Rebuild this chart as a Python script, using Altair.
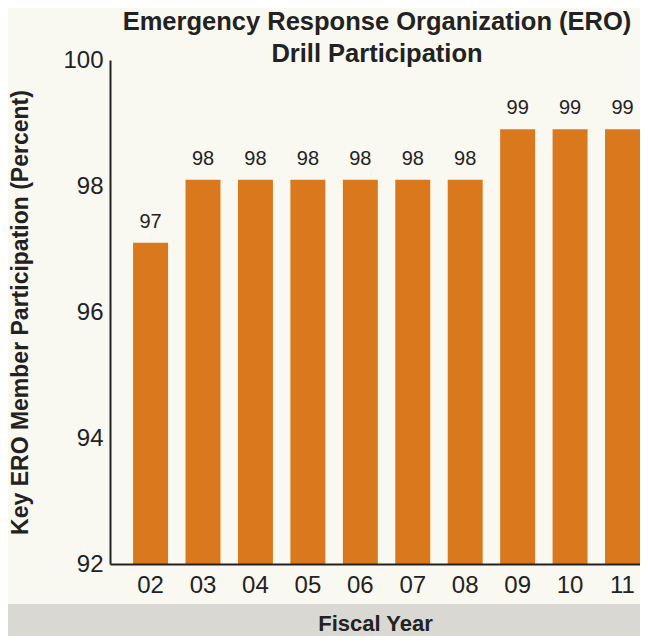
import altair as alt
import pandas as pd

years = ["02", "03", "04", "05", "06", "07", "08", "09", "10", "11"]
participation = [97.1, 98.1, 98.1, 98.1, 98.1, 98.1, 98.1, 98.9, 98.9, 98.9]
y_ticks = [92, 94, 96, 98, 100]

df = pd.DataFrame({"year": years, "value": participation})

BG = "#faf9f1"
BAR = "#d9781c"
TXT = "#222222"
FONT = "Liberation Sans"

W, H = 530, 504

x_enc = alt.X(
    "year:N",
    sort=years,
    scale=alt.Scale(paddingInner=0.333, paddingOuter=0.22, align=1),
    axis=alt.Axis(
        title="Fiscal Year",
        labelAngle=0,
        labelFontSize=24,
        labelColor=TXT,
        labelFont=FONT,
        labelPadding=9,
        ticks=False,
        domainColor=TXT,
        domainWidth=2,
        titleFontSize=22,
        titleFont=FONT,
        titleFontWeight="bold",
        titleColor=TXT,
        titlePadding=16,
        zindex=1,
    ),
)
y_enc = alt.Y(
    "value:Q",
    scale=alt.Scale(domain=[92, 100], nice=False, zero=False),
    axis=alt.Axis(
        values=y_ticks,
        format="d",
        title="Key ERO Member Participation (Percent)",
        labelFontSize=24,
        labelColor=TXT,
        labelFont=FONT,
        labelPadding=7,
        ticks=False,
        grid=False,
        domainColor=TXT,
        domainWidth=2,
        titleFontSize=23,
        titleFont=FONT,
        titleFontWeight="bold",
        titleColor=TXT,
        titlePadding=30,
        zindex=1,
    ),
)

strip = alt.Chart(pd.DataFrame({"k": [0]})).mark_rect(color="#dad8d2").encode(
    x=alt.value(-110), x2=alt.value(540), y=alt.value(544), y2=alt.value(600)
)

bars = alt.Chart(df).mark_bar(color=BAR).encode(
    x=x_enc, y=y_enc, y2=alt.datum(92)
)
labels = alt.Chart(df).mark_text(
    baseline="alphabetic", dy=-15, fontSize=20, color=TXT, font=FONT
).encode(x=alt.X("year:N", sort=years), y="value:Q", text=alt.Text("value:Q", format=".0f"))

chart = (
    alt.layer(strip, bars, labels)
    .properties(
        width=W,
        height=H,
        title=alt.TitleParams(
            text=["Emergency Response Organization (ERO)", "Drill Participation"],
            fontSize=25.5,
            font=FONT,
            fontWeight="bold",
            color=TXT,
            anchor="middle",
            frame="group",
            lineHeight=32,
            offset=-19,
            dx=2,
        ),
        autosize=alt.AutoSizeParams(type="none"),
        padding={"left": 102, "top": 52, "right": 0, "bottom": 72},
        background=BG,
    )
    .configure_view(stroke=None)
)

chart.save("out.html", embed_options={"renderer": "svg", "actions": False})
